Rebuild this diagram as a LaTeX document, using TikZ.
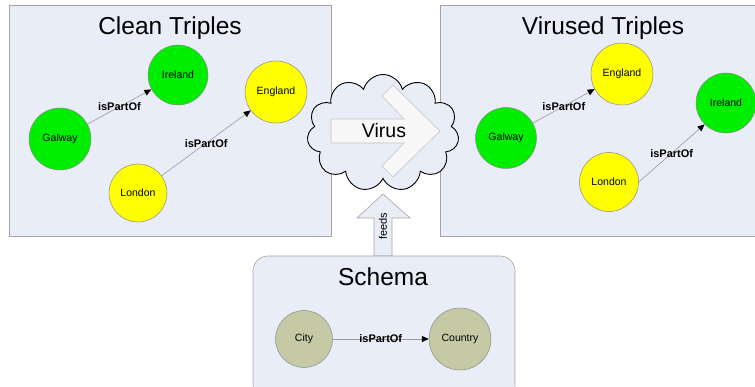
\documentclass[tikz,border=0pt]{standalone}
\usepackage{fontspec}
\setmainfont{Liberation Sans}
\usetikzlibrary{shapes.symbols,arrows.meta}

\definecolor{panelfill}{HTML}{E8EDF7}
\definecolor{panelline}{HTML}{A4A4A4}
\definecolor{placeline}{HTML}{8C8C8C}
\definecolor{linkgray}{HTML}{999999}
\definecolor{vgreen}{HTML}{00EE00}
\definecolor{vyellow}{HTML}{FFFF00}
\definecolor{volive}{HTML}{C5CAA4}
\definecolor{arrowfill}{HTML}{F7F7F7}
\definecolor{arrowline}{HTML}{C4C4C4}

\begin{document}
\begin{tikzpicture}[x=1pt,y=-1pt,
  panel/.style={draw=panelline,fill=panelfill,line width=0.6pt},
  heading/.style={font=\fontsize{24.5}{28}\selectfont},
  place/.style={circle,draw=placeline,line width=0.5pt,minimum size=60pt,inner sep=0pt,font=\fontsize{10.5}{12}\selectfont},
  link/.style={draw=linkgray,line width=0.6pt,-{Triangle[length=7pt,width=6pt,black]}},
  relname/.style={font=\bfseries\fontsize{11}{13}\selectfont}]

\useasboundingbox (0,0) rectangle (755,387);

% Draw the two panels of triples
\draw[panel] (9,5) rectangle (331,236);
\node[heading] (cleanTitle) at (170,28) {Clean Triples};
\draw[panel] (440,5) rectangle (760,236);
\node[heading] (virusedTitle) at (603,28) {Virused Triples};

% Clean triples
\node[place,fill=vgreen] (cleanIreland) at (178,75) {Ireland};
\node[place,fill=vyellow,minimum size=62pt] (cleanEngland) at (276,92) {England};
\node[place,fill=vgreen,minimum size=62pt] (cleanGalway) at (60,139) {Galway};
\node[place,fill=vyellow,minimum size=58pt] (cleanLondon) at (138,193) {London};
\draw[link] (cleanGalway) -- node[relname] {isPartOf} (cleanIreland);
\draw[link] (cleanLondon) -- node[relname] {isPartOf} (cleanEngland);

% Virused triples
\node[place,fill=vyellow,minimum size=62pt] (virusedEngland) at (622,74) {England};
\node[place,fill=vgreen] (virusedIreland) at (726,103) {Ireland};
\node[place,fill=vgreen,minimum size=61pt] (virusedGalway) at (506,138) {Galway};
\node[place,fill=vyellow,minimum size=59pt] (virusedLondon) at (609,182) {London};
\draw[link] (virusedGalway) -- node[relname] {isPartOf} (virusedEngland);
\draw[link] (virusedLondon.east) -- node[relname] {isPartOf} (virusedIreland.south west);

% Draw the virus cloud with its arrow
\node[cloud,cloud puffs=11,aspect=1.3,draw=black,line width=0.9pt,fill=panelfill,
  minimum width=152pt,minimum height=117pt] (virusCloud) at (383,133) {};
\draw[fill=arrowfill,draw=arrowline,line width=0.6pt] (331,119) -- (404,119) -- (382,96)
  -- (393,85) -- (440,131) -- (393,177) -- (382,166) -- (404,143) -- (331,143) -- cycle;
\node[font=\fontsize{19.5}{22}\selectfont] (virusText) at (384,131) {Virus};

% Draw the feeds arrow and the schema
\draw[panel] (374,256) -- (374,218) -- (357,218) -- (383,194) -- (410,218)
  -- (392,218) -- (392,256) -- cycle;
\node[rotate=90,font=\fontsize{11}{13}\selectfont] (feedsText) at (383,226) {feeds};
\draw[panel,rounded corners=15pt] (253,256) rectangle (515,400);
\node[heading] (schemaTitle) at (383,277) {Schema};
\node[place,fill=volive,minimum size=57pt] (schemaCity) at (304,339) {City};
\node[place,fill=volive,minimum size=62pt] (schemaCountry) at (460,339) {Country};
\draw[link] (schemaCity) -- node[relname] {isPartOf} (schemaCountry);
\end{tikzpicture}
\end{document}
